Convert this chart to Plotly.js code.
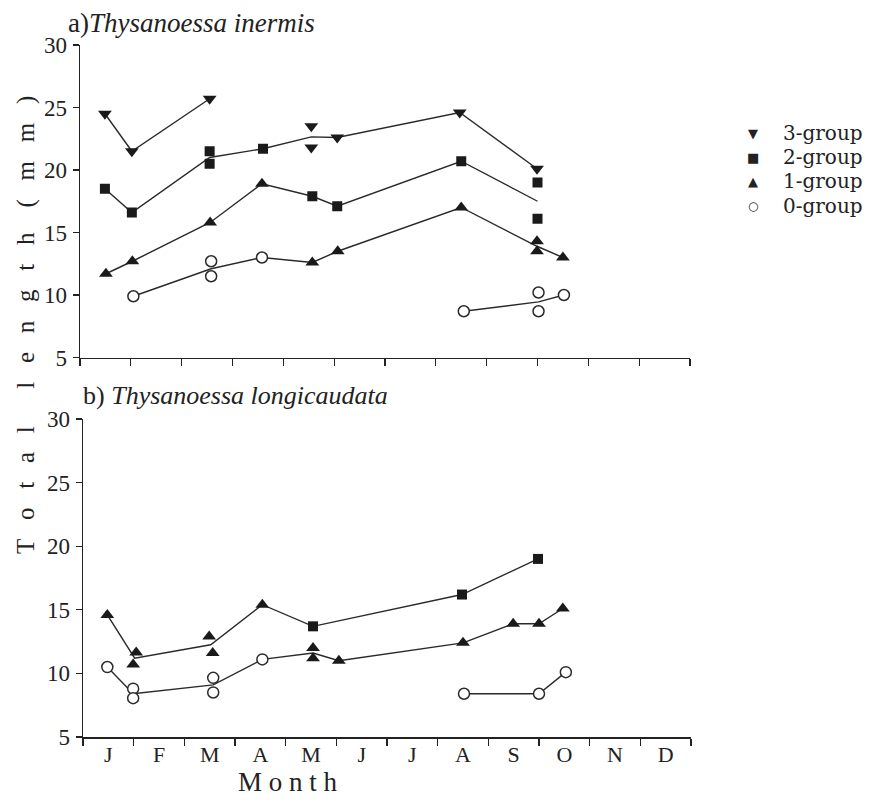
<!DOCTYPE html>
<html>
<head>
<meta charset="utf-8">
<script src="https://cdn.plot.ly/plotly-3.0.1.min.js"></script>
<style>html,body{margin:0;padding:0;background:#fff;}#chart{width:874px;height:803px;}</style>
</head>
<body>
<div id="chart"></div>
<script>
// Month labels (axis from 0 = start of Jan to 12 = end of Dec)
var monthLabels = ["J","F","M","A","M","J","J","A","S","O","N","D"];
var monthCenters = [0.5,1.5,2.5,3.5,4.5,5.5,6.5,7.5,8.5,9.5,10.5,11.5];

// ---- a) Thysanoessa inermis : measured points ----
var a3x = [0.49,1.02,2.55,4.55,4.55,5.06,7.47,8.99];
var a3y = [24.5,21.5,25.7,23.5,21.8,22.6,24.6,20.1];
var a2x = [0.49,1.02,2.55,2.55,3.60,4.57,5.06,7.50,9.00,9.00];
var a2y = [18.5,16.6,21.5,20.5,21.7,17.9,17.1,20.7,19.0,16.1];
var a1x = [0.51,1.03,2.56,3.58,4.57,5.07,7.50,8.99,8.99,9.50];
var a1y = [11.7,12.7,15.8,18.9,12.6,13.5,17.0,14.3,13.5,13.0];
var a0x = [1.05,2.58,2.58,3.58,7.55,9.02,9.02,9.52];
var a0y = [9.9,12.7,11.5,13.0,8.7,10.2,8.7,10.0];

// a) cohort lines (through means)
var aL1x = [0.49,1.02,2.55];
var aL1y = [24.5,21.5,25.7];
var aL2x = [0.49,1.02,2.55,3.60,4.55,5.06,7.47,8.99];
var aL2y = [18.5,16.6,21.0,21.7,22.65,22.6,24.6,20.1];
var aL3x = [0.51,1.03,2.56,3.58,4.57,5.06,7.50,9.00];
var aL3y = [11.7,12.7,15.8,18.9,17.9,17.1,20.7,17.5];
var aL4x = [1.05,2.58,3.58,4.57,5.07,7.50,8.99,9.50];
var aL4y = [9.9,12.1,13.0,12.6,13.5,17.0,13.9,13.0];
var aL5x = [7.55,9.02,9.52];
var aL5y = [8.7,9.45,10.0];

// ---- b) Thysanoessa longicaudata : measured points ----
var b2x = [4.54,7.48,8.98];
var b2y = [13.7,16.2,19.0];
var b1x = [0.48,0.99,1.05,2.49,2.56,3.54,4.54,4.54,5.05,7.50,8.49,9.00,9.47];
var b1y = [14.6,10.7,11.65,12.9,11.6,15.4,12.0,11.2,11.0,12.4,13.9,13.9,15.1];
var b0x = [0.48,0.99,0.99,2.57,2.57,3.54,7.52,9.00,9.53];
var b0y = [10.5,8.8,8.05,9.65,8.5,11.1,8.4,8.4,10.1];

// b) cohort lines
var bL1x = [0.48,1.02,2.52,3.54,4.54,7.48,8.98];
var bL1y = [14.6,11.2,12.25,15.4,13.7,16.2,19.0];
var bL2x = [0.48,0.99,2.57,3.54,4.54,5.05,7.50,8.49,9.00,9.47];
var bL2y = [10.5,8.4,9.1,11.1,11.6,11.0,12.4,13.9,13.9,15.1];
var bL3x = [7.52,9.00,9.53];
var bL3y = [8.4,8.4,10.1];

// legend
var groupNames = ["3-group","2-group","1-group","0-group"];
var groupGlyphs = ["\u25BC","\u25A0","\u25B2","\u25CB"];

var ink = "#1a1a1a";
var serif = "'Liberation Serif', 'Times New Roman', serif";

function lineTrace(x, y, xa, ya) {
  return {x:x, y:y, xaxis:xa, yaxis:ya, type:"scatter", mode:"lines",
          line:{color:"#2a2a2a", width:1.4}, showlegend:false, hoverinfo:"skip"};
}
var sym = {
  "3-group": {symbol:"triangle-down", size:12, color:ink, line:{width:0}},
  "2-group": {symbol:"square", size:10, color:ink, line:{width:0}},
  "1-group": {symbol:"triangle-up", size:12, color:ink, line:{width:0}},
  "0-group": {symbol:"circle", size:11, color:"#ffffff", line:{width:1.5, color:"#2a2a2a"}}
};
function markTrace(x, y, xa, ya, name) {
  return {x:x, y:y, xaxis:xa, yaxis:ya, type:"scatter", mode:"markers", name:name,
          marker:JSON.parse(JSON.stringify(sym[name])), showlegend:false, hoverinfo:"skip"};
}

var traces = [
  lineTrace(aL1x,aL1y,"x","y"), lineTrace(aL2x,aL2y,"x","y"), lineTrace(aL3x,aL3y,"x","y"),
  lineTrace(aL4x,aL4y,"x","y"), lineTrace(aL5x,aL5y,"x","y"),
  lineTrace(bL1x,bL1y,"x2","y2"), lineTrace(bL2x,bL2y,"x2","y2"), lineTrace(bL3x,bL3y,"x2","y2"),
  markTrace(a3x,a3y,"x","y",groupNames[0]),
  markTrace(a2x,a2y,"x","y",groupNames[1]),
  markTrace(a1x,a1y,"x","y",groupNames[2]),
  markTrace(a0x,a0y,"x","y",groupNames[3]),
  markTrace(b2x,b2y,"x2","y2",groupNames[1]),
  markTrace(b1x,b1y,"x2","y2",groupNames[2]),
  markTrace(b0x,b0y,"x2","y2",groupNames[3])
];

var W = 874, H = 803;
function px(v){ return v / W; }
function py(v){ return 1 - v / H; }

var yTick = {family:serif, size:23, color:"#222"};
function yAxis(domain, anchor) {
  return {domain:domain, anchor:anchor, range:[5,30], tickvals:[5,10,15,20,25,30],
          ticks:"outside", ticklen:6, tickwidth:1.3, tickcolor:"#222",
          showline:true, linecolor:"#222", linewidth:1.5, showgrid:false, zeroline:false,
          tickfont:yTick, ticklabelstandoff:1, fixedrange:true};
}
function xAxis(domain, anchor, labels) {
  return {domain:domain, anchor:anchor, range:[0,12],
          tickvals:monthCenters, ticktext: labels ? monthLabels : monthCenters.map(function(){return "";}),
          ticks:"", showticklabels: !!labels, ticklabelstandoff:-3,
          minor:{ticks:"outside", tick0:0, dtick:1, ticklen:7, tickwidth:1.3, tickcolor:"#222", showgrid:false},
          showline:true, linecolor:"#222", linewidth:1.5, showgrid:false, zeroline:false,
          tickfont:{family:serif, size:22, color:"#222"}, fixedrange:true};
}

var annotations = [
  {text:"a)<i>Thysanoessa inermis</i>", xref:"paper", yref:"paper", x:px(66), y:py(23),
   xanchor:"left", yanchor:"middle", showarrow:false, font:{family:serif, size:27, color:"#222"}},
  {text:"b) <i>Thysanoessa longicaudata</i>", xref:"paper", yref:"paper", x:px(81), y:py(395),
   xanchor:"left", yanchor:"middle", showarrow:false, font:{family:serif, size:26, color:"#222"}},
  {text:"M o n t h", xref:"paper", yref:"paper", x:px(288), y:py(782),
   xanchor:"center", yanchor:"middle", showarrow:false, font:{family:serif, size:27, color:"#222"}},
  {text:"T&nbsp;&nbsp;&nbsp;o&nbsp;&nbsp;&nbsp;t&nbsp;&nbsp;&nbsp;a&nbsp;&nbsp;&nbsp;l&nbsp;&nbsp;&nbsp;&nbsp;&nbsp;&nbsp;l&nbsp;&nbsp;&nbsp;e&nbsp;&nbsp;&nbsp;n&nbsp;&nbsp;&nbsp;g&nbsp;&nbsp;&nbsp;t&nbsp;&nbsp;&nbsp;h&nbsp;&nbsp;&nbsp;&nbsp;(&nbsp;&nbsp;&nbsp;m&nbsp;&nbsp;&nbsp;m&nbsp;&nbsp;&nbsp;)",
   xref:"paper", yref:"paper", x:px(26), y:py(325), textangle:-90,
   xanchor:"center", yanchor:"middle", showarrow:false, font:{family:serif, size:25, color:"#222"}}
];
var legendY = [133, 157, 181, 206];
for (var i = 0; i < groupNames.length; i++) {
  annotations.push({text:groupGlyphs[i], xref:"paper", yref:"paper", x:px(753), y:py(legendY[i]),
    xanchor:"center", yanchor:"middle", showarrow:false,
    font:{family:"'DejaVu Sans', sans-serif", size:(i===3?12:13), color:"#222"}});
  annotations.push({text:groupNames[i], xref:"paper", yref:"paper", x:px(781), y:py(legendY[i]),
    xanchor:"left", yanchor:"middle", showarrow:false,
    font:{family:"'DejaVu Serif', serif", size:20, color:"#222"}});
}

var layout = {
  width:W, height:H, margin:{l:0,r:0,t:0,b:0},
  font:{family:serif, color:"#222"},
  paper_bgcolor:"#fff", plot_bgcolor:"rgba(0,0,0,0)",
  xaxis: xAxis([px(80), px(690)], "y", false),
  yaxis: yAxis([py(357.5), py(45)], "x"),
  xaxis2: xAxis([px(83), px(691)], "y2", true),
  yaxis2: yAxis([py(737), py(419)], "x2"),
  showlegend:false,
  annotations: annotations
};

Plotly.newPlot("chart", traces, layout, {staticPlot:true, displayModeBar:false});
</script>
</body>
</html>
